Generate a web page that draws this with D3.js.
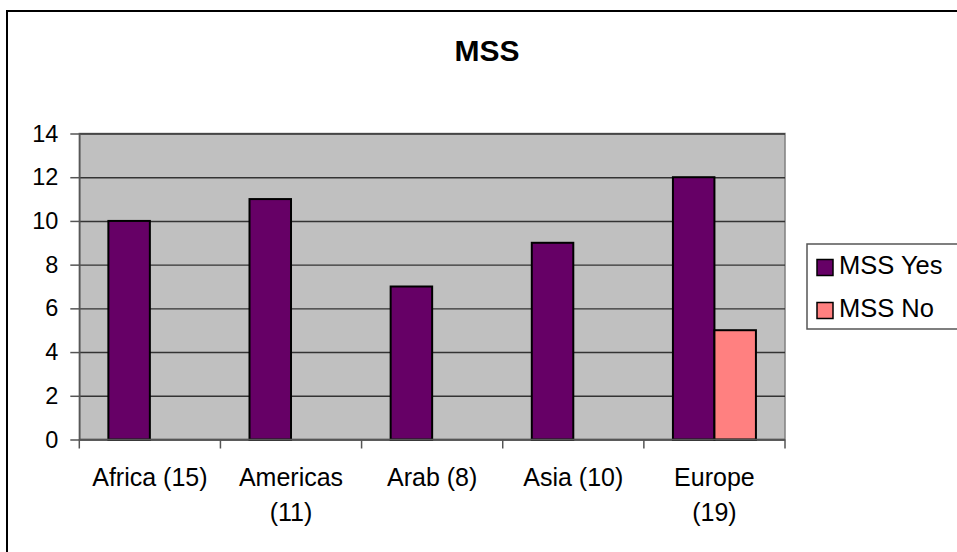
<!DOCTYPE html>
<html>
<head>
<meta charset="utf-8">
<script src="https://cdn.jsdelivr.net/npm/d3@7"></script>
<style>
  html, body { margin: 0; padding: 0; background: #fff; overflow: hidden; }
  svg { display: block; font-family: "Liberation Sans", Arial, sans-serif; }
</style>
</head>
<body>
<svg id="chart" width="957" height="552"></svg>
<script>
// Regions (with member counts) and the number answering yes / no
const categories = ["Africa (15)", "Americas (11)", "Arab (8)", "Asia (10)", "Europe (19)"];
const categoryLines = [["Africa (15)"], ["Americas", "(11)"], ["Arab (8)"], ["Asia (10)"], ["Europe", "(19)"]];
const seriesNames = ["MSS Yes", "MSS No"];
const mssYes = [10, 11, 7, 9, 12];
const mssNo = [0, 0, 0, 0, 5];
const yTicks = [0, 2, 4, 6, 8, 10, 12, 14];
const seriesColors = ["#660066", "#FF8080"];

const svg = d3.select("#chart");

// Outer chart frame (runs past the right and bottom edges)
svg.append("rect")
  .attr("x", 7).attr("y", 11)
  .attr("width", 980).attr("height", 580)
  .attr("fill", "#fff").attr("stroke", "#000").attr("stroke-width", 2);

// Title
svg.append("text")
  .attr("x", 487).attr("y", 61)
  .attr("text-anchor", "middle")
  .attr("font-size", 30).attr("font-weight", "bold")
  .text("MSS");

const plot = { left: 79.3, right: 785, top: 133.5, bottom: 439.5 };

const x = d3.scaleBand()
  .domain(categories)
  .range([plot.left, plot.right])
  .paddingInner(0).paddingOuter(0);

const y = d3.scaleLinear()
  .domain([0, 14])
  .range([plot.bottom, plot.top]);

// Plot background
svg.append("rect")
  .attr("x", plot.left).attr("y", plot.top)
  .attr("width", plot.right - plot.left).attr("height", plot.bottom - plot.top)
  .attr("fill", "#C0C0C0")
  .attr("stroke", "#808080").attr("stroke-width", 1.5);

// Horizontal gridlines
const grid = svg.append("g")
  .attr("transform", `translate(${plot.left},0)`)
  .call(d3.axisLeft(y).tickValues(yTicks).tickSize(-(plot.right - plot.left)).tickFormat(""));
grid.select(".domain").remove();
grid.selectAll(".tick line").attr("stroke", "#333").attr("stroke-width", 1.4);

// Bars
const barW = 41.5;
const series = [mssYes, mssNo];
series.forEach((vals, s) => {
  svg.append("g").selectAll("rect")
    .data(categories.map((c, i) => ({ c, v: vals[i] })).filter(d => d.v > 0))
    .join("rect")
    .attr("x", d => x(d.c) + x.bandwidth() / 2 - barW + s * barW)
    .attr("y", d => y(d.v))
    .attr("width", barW)
    .attr("height", d => y(0) - y(d.v))
    .attr("fill", seriesColors[s])
    .attr("stroke", "#000").attr("stroke-width", 2);
});

// Y axis
const yAxis = svg.append("g")
  .attr("transform", `translate(${plot.left},0)`)
  .call(d3.axisLeft(y).tickValues(yTicks).tickSize(9).tickPadding(12).tickSizeOuter(0));
yAxis.select(".domain").attr("stroke", "#555").attr("stroke-width", 1.5);
yAxis.selectAll(".tick line").attr("stroke", "#555").attr("stroke-width", 1.5);
yAxis.selectAll(".tick text")
  .attr("font-family", "Liberation Sans, Arial, sans-serif")
  .attr("font-size", 23.5).attr("fill", "#000");

// X axis: ticks sit on category boundaries
const xAxisG = svg.append("g").attr("transform", `translate(0,${plot.bottom})`);
xAxisG.append("line")
  .attr("x1", plot.left).attr("x2", plot.right)
  .attr("stroke", "#555").attr("stroke-width", 1.5);
const boundaries = categories.map(c => x(c)).concat([x(categories[categories.length - 1]) + x.bandwidth()]);
xAxisG.selectAll("line.tick")
  .data(boundaries)
  .join("line")
  .attr("class", "tick")
  .attr("x1", d => d).attr("x2", d => d)
  .attr("y1", 0).attr("y2", 9)
  .attr("stroke", "#555").attr("stroke-width", 1.5);

xAxisG.selectAll("text.cat")
  .data(categories)
  .join("text")
  .attr("class", "cat")
  .attr("x", d => x(d) + x.bandwidth() / 2)
  .attr("y", 46)
  .attr("text-anchor", "middle")
  .attr("font-size", 25)
  .each(function (d, i) {
    d3.select(this).selectAll("tspan")
      .data(categoryLines[i])
      .join("tspan")
      .attr("x", x(d) + x.bandwidth() / 2)
      .attr("dy", (t, j) => j === 0 ? 0 : 35)
      .text(t => t);
  });

// Legend
const legend = svg.append("g");
legend.append("rect")
  .attr("x", 807).attr("y", 244)
  .attr("width", 200).attr("height", 85)
  .attr("fill", "#fff").attr("stroke", "#555").attr("stroke-width", 1.5);
seriesNames.forEach((name, i) => {
  const cy = 267.5 + i * 43;
  legend.append("rect")
    .attr("x", 817).attr("y", cy - 8)
    .attr("width", 16).attr("height", 16)
    .attr("fill", seriesColors[i])
    .attr("stroke", "#000").attr("stroke-width", 1.5);
  legend.append("text")
    .attr("x", 839).attr("y", cy + 6)
    .attr("font-size", 25.5)
    .text(name);
});
</script>
</body>
</html>
